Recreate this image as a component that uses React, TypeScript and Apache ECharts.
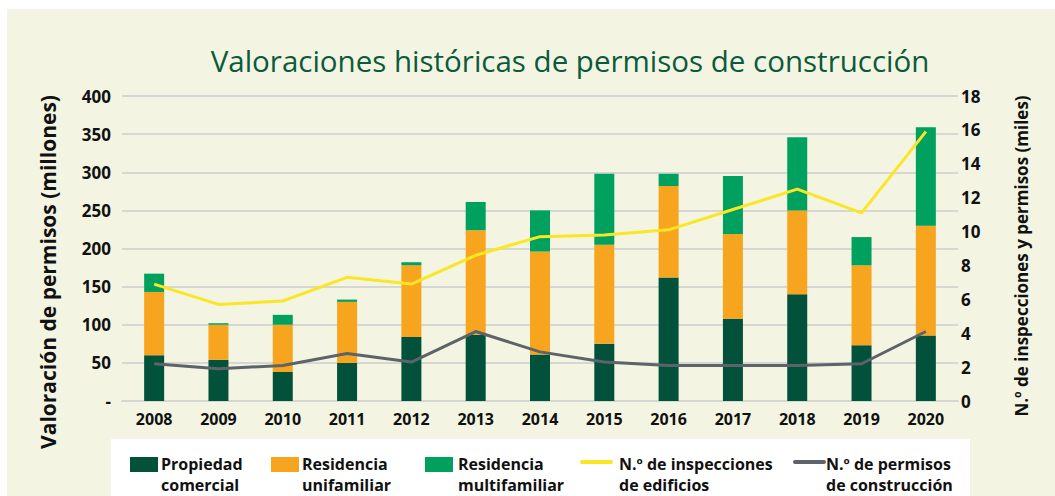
import React, { useEffect, useRef } from "react";
import * as echarts from "echarts";

const years = ["2008", "2009", "2010", "2011", "2012", "2013", "2014", "2015", "2016", "2017", "2018", "2019", "2020"];
const commercial = [60, 54, 38, 50, 84, 87, 61, 75, 162, 108, 140, 73, 86];
const singleFamily = [83, 46, 62, 80, 94, 137, 135, 130, 120, 111, 110, 105, 144];
const multiFamily = [24, 2, 13, 3, 4, 37, 54, 93, 16, 76, 96, 37, 129];
const inspections = [6.9, 5.7, 5.9, 7.3, 6.9, 8.6, 9.7, 9.8, 10.1, 11.3, 12.5, 11.1, 15.9];
const permits = [2.2, 1.9, 2.1, 2.8, 2.3, 4.1, 2.9, 2.3, 2.1, 2.1, 2.1, 2.2, 4.1];

const seriesNames = [
  "Propiedad comercial",
  "Residencia unifamiliar",
  "Residencia multifamiliar",
  "N.º de inspecciones de edificios",
  "N.º de permisos de construcción",
];
const legendLines = [
  ["Propiedad", "comercial"],
  ["Residencia", "unifamiliar"],
  ["Residencia", "multifamiliar"],
  ["N.º de inspecciones", "de edificios"],
  ["N.º de permisos", "de construcción"],
];

const title = "Valoraciones históricas de permisos de construcción";
const leftAxisName = "Valoración de permisos (millones)";
const rightAxisName = "N.º de inspecciones y permisos (miles)";

const C_DARK = "#02513A";
const C_ORANGE = "#F7A51E";
const C_GREEN = "#00A05F";
const C_YELLOW = "#FBE625";
const C_GRAY = "#5D6368";
const FONT = "'Open Sans', 'Noto Sans', sans-serif";

export default function App() {
  const ref = useRef<HTMLDivElement>(null);
  useEffect(() => {
    document.body.style.margin = "0";
    const chart = echarts.init(ref.current!, null, { renderer: "svg" });
    const legendX = [130, 271, 425, 582, 795];
    const legendText = [161, 302, 458, 619, 826];
    const legendGraphics: any[] = [];
    seriesNames.forEach((_, i) => {
      if (i < 3) {
        legendGraphics.push({
          type: "rect",
          shape: { x: legendX[i], y: 457, width: 28, height: 15 },
          style: { fill: [C_DARK, C_ORANGE, C_GREEN][i] },
        });
      } else {
        legendGraphics.push({
          type: "line",
          shape: { x1: legendX[i], y1: 462, x2: legendX[i] + 29, y2: 462 },
          style: { stroke: i === 3 ? C_YELLOW : C_GRAY, lineWidth: 4, lineCap: "round" },
        });
      }
      legendGraphics.push({
        type: "text",
        x: legendText[i],
        y: 453,
        style: {
          text: legendLines[i].join("\n"),
          font: `bold 16px ${FONT}`,
          fill: "#111",
          align: "left",
          verticalAlign: "top",
          lineHeight: 21,
        } as any,
      });
    });

    chart.setOption({
      animation: false,
      backgroundColor: "#ffffff",
      textStyle: { fontFamily: FONT },
      grid: { left: 122, right: 97, top: 96, bottom: 95, containLabel: false },
      graphic: [
        { type: "rect", z: -10, silent: true, shape: { x: 7, y: 9, width: 1048, height: 487 }, style: { fill: "#F3F5E2" } },
        { type: "rect", z: -5, silent: true, shape: { x: 111, y: 439, width: 859, height: 57 }, style: { fill: "#FFFFFF" } },
        {
          type: "text",
          x: 570,
          y: 60,
          style: { text: title, font: `29.5px ${FONT}`, fill: "#0B5A3C", align: "center", verticalAlign: "middle" },
        },
        {
          type: "text",
          x: 48,
          y: 272,
          rotation: Math.PI / 2,
          style: { text: leftAxisName, font: `bold 21px ${FONT}`, fill: "#111", align: "center", verticalAlign: "middle" },
        },
        {
          type: "text",
          x: 1021,
          y: 256,
          rotation: Math.PI / 2,
          style: { text: rightAxisName, font: `bold 17px ${FONT}`, fill: "#111", align: "center", verticalAlign: "middle" },
        },
        ...legendGraphics,
      ],
      xAxis: {
        type: "category",
        data: years,
        axisTick: { show: false },
        axisLine: { lineStyle: { color: "#D6D6D2", width: 2 } },
        axisLabel: { color: "#111", fontWeight: "bold", fontSize: 16, margin: 10, fontFamily: FONT },
      },
      yAxis: [
        {
          type: "value",
          min: 0,
          max: 400,
          interval: 50,
          axisLine: { show: false },
          axisTick: { show: false },
          splitLine: { lineStyle: { color: "#D6D6D2", width: 2 } },
          axisLabel: {
            color: "#111",
            fontWeight: "bold",
            fontSize: 17,
            margin: 11,
            fontFamily: FONT,
            formatter: (v: number) => (v === 0 ? "-" : String(v)),
          },
        },
        {
          type: "value",
          min: 0,
          max: 18,
          interval: 2,
          position: "right",
          axisLine: { show: false },
          axisTick: { show: false },
          splitLine: { show: false },
          axisLabel: { color: "#111", fontWeight: "bold", fontSize: 17, margin: 3, fontFamily: FONT },
        },
      ],
      series: [
        { name: seriesNames[0], type: "bar", stack: "v", barWidth: 20, data: commercial, itemStyle: { color: C_DARK } },
        { name: seriesNames[1], type: "bar", stack: "v", barWidth: 20, data: singleFamily, itemStyle: { color: C_ORANGE } },
        { name: seriesNames[2], type: "bar", stack: "v", barWidth: 20, data: multiFamily, itemStyle: { color: C_GREEN } },
        {
          name: seriesNames[3],
          type: "line",
          yAxisIndex: 1,
          data: inspections,
          showSymbol: false,
          symbol: "none",
          lineStyle: { color: C_YELLOW, width: 3 },
          itemStyle: { color: C_YELLOW },
        },
        {
          name: seriesNames[4],
          type: "line",
          yAxisIndex: 1,
          data: permits,
          showSymbol: false,
          symbol: "none",
          lineStyle: { color: C_GRAY, width: 3 },
          itemStyle: { color: C_GRAY },
        },
      ],
    });
    return () => chart.dispose();
  }, []);
  return <div ref={ref} style={{ width: 1055, height: 496 }} />;
}
